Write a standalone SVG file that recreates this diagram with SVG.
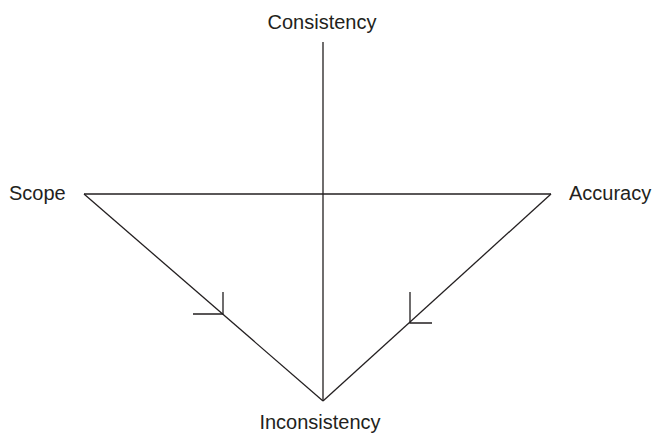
<svg xmlns="http://www.w3.org/2000/svg" width="655" height="434" viewBox="0 0 655 434">
<style>
.ln{stroke:#231f20;stroke-width:1.3;fill:none}
.lb{font-family:"Liberation Sans",Arial,sans-serif;font-size:20px;fill:#231f20}
</style>
<rect width="655" height="434" fill="#fff"/>
<g id="connectors">
<line class="ln" x1="323" y1="42" x2="323" y2="401"/>
<line class="ln" x1="84" y1="194" x2="551" y2="194"/>
<line class="ln" x1="84" y1="194" x2="323" y2="401"/>
<line class="ln" x1="551" y1="194" x2="323" y2="401"/>
<polyline class="ln" points="223,292 223,314 193,314"/>
<polyline class="ln" points="410,292 410,323 432,323"/>
</g>
<g id="consistency"><text class="lb" x="322" y="29" text-anchor="middle">Consistency</text></g>
<g id="scope"><text class="lb" x="9" y="200">Scope</text></g>
<g id="accuracy"><text class="lb" x="569" y="200">Accuracy</text></g>
<g id="inconsistency"><text class="lb" x="320" y="429" text-anchor="middle">Inconsistency</text></g>
</svg>
